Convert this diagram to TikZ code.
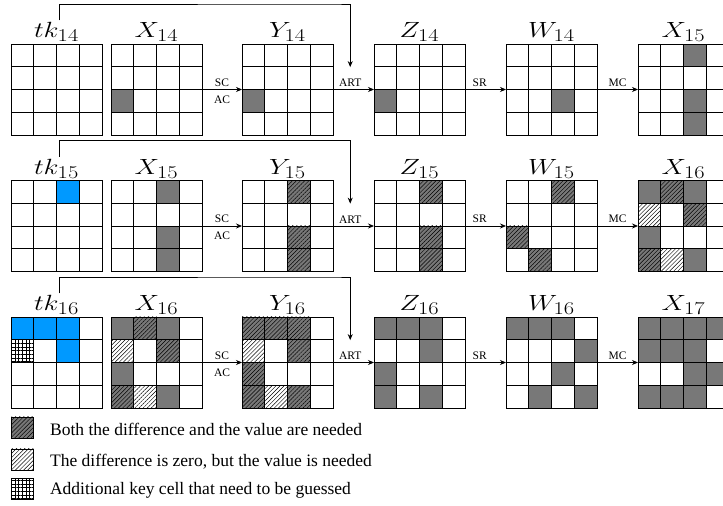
\RequirePackage{fix-cm}
\documentclass[tikz,border=0pt]{standalone}
\usepackage{fontspec}
\usepackage{graphicx}
\usepackage{tikz}
\usetikzlibrary{arrows.meta,positioning,patterns.meta}
\newfontfamily\labelfont{Liberation Serif}
\definecolor{cellGray}{HTML}{787878}
\definecolor{keyBlue}{HTML}{0099FF}
\DeclareMathSizes{22}{22}{18}{14}
\newcommand{\sttitle}[2]{\scalebox{1.25}[1]{$#1_{#2}$}}
% one cell of a 4x4 state: node, row, column, style
\newcommand{\paintcell}[4]{\path[#4] ([xshift=#3*22.75pt,yshift=-#2*22.75pt]#1.north west) rectangle ++(22.75,-22.75)}
\newcommand{\stategrid}[1]{%
  \begin{scope}[shift={(#1.south west)}]
    \draw[gridline] (0,0) grid[step=22.75] (91,91);
    \draw[gridline] (0,0) rectangle (91,91);
  \end{scope}}

\begin{document}
\begin{tikzpicture}[
  x=1pt,y=1pt,
  statebox/.style={minimum size=91pt,inner sep=0pt,outer sep=0pt},
  heading/.style={font=\fontsize{22}{26}\selectfont,inner sep=2pt},
  gridline/.style={line width=0.8pt},
  oplabel/.style={font=\labelfont\fontsize{11.5}{13}\selectfont,inner sep=2.5pt},
  arrow/.style={-{Stealth[length=6pt,width=5pt]},line width=0.8pt},
  dk/.style={fill=cellGray},
  dh/.style={preaction={fill=cellGray},pattern={Lines[angle=45,distance=2.9pt,line width=0.45pt]}},
  wh/.style={pattern={Lines[angle=45,distance=2.9pt,line width=0.45pt]}},
  kb/.style={fill=keyBlue},
  gk/.style={pattern={Hatch[angle=0,distance=3.7pt,line width=0.5pt]}},
  legbox/.style={draw,line width=0.8pt,minimum width=22pt,minimum height=21pt,inner sep=0pt},
  legtext/.style={font=\labelfont\fontsize{17.5}{20}\selectfont,inner sep=0pt}
]
\useasboundingbox (0,0) rectangle (723,506);
\clip (0,0) rectangle (723,506);

% states of the three rounds
\foreach \n [count=\i from 0] in {14,15,16} {
  \node[statebox] (tk\n) at (56.5,{416.5-136.5*\i}) {};
  \node[statebox,right=9pt of tk\n] (x\n) {};
  \node[statebox,right=40pt of x\n] (y\n) {};
  \node[statebox,right=41pt of y\n] (z\n) {};
  \node[statebox,right=41pt of z\n] (w\n) {};
  \node[statebox,right=41pt of w\n] (out\n) {};
}

% round 14
\foreach \r/\c/\s in {2/0/dk} \paintcell{x14}{\r}{\c}{\s};
\foreach \r/\c/\s in {2/0/dk} \paintcell{y14}{\r}{\c}{\s};
\foreach \r/\c/\s in {2/0/dk} \paintcell{z14}{\r}{\c}{\s};
\foreach \r/\c/\s in {2/2/dk} \paintcell{w14}{\r}{\c}{\s};
\foreach \r/\c/\s in {0/2/dk,2/2/dk,3/2/dk} \paintcell{out14}{\r}{\c}{\s};
% round 15
\foreach \r/\c/\s in {0/2/kb} \paintcell{tk15}{\r}{\c}{\s};
\foreach \r/\c/\s in {0/2/dk,2/2/dk,3/2/dk} \paintcell{x15}{\r}{\c}{\s};
\foreach \r/\c/\s in {0/2/dh,2/2/dh,3/2/dh} \paintcell{y15}{\r}{\c}{\s};
\foreach \r/\c/\s in {0/2/dh,2/2/dh,3/2/dh} \paintcell{z15}{\r}{\c}{\s};
\foreach \r/\c/\s in {0/2/dh,2/0/dh,3/1/dh} \paintcell{w15}{\r}{\c}{\s};
\foreach \r/\c/\s in {0/0/dk,0/1/dh,0/2/dk,1/0/wh,1/2/dh,2/0/dk,3/0/dh,3/1/wh,3/2/dk} \paintcell{out15}{\r}{\c}{\s};
% round 16
\foreach \r/\c/\s in {0/0/kb,0/1/kb,0/2/kb,1/2/kb,1/0/gk} \paintcell{tk16}{\r}{\c}{\s};
\foreach \r/\c/\s in {0/0/dk,0/1/dh,0/2/dk,1/0/wh,1/2/dh,2/0/dk,3/0/dh,3/1/wh,3/2/dk} \paintcell{x16}{\r}{\c}{\s};
\foreach \r/\c/\s in {0/0/dh,0/1/dh,0/2/dh,1/0/wh,1/2/dh,2/0/dh,3/0/dh,3/1/wh,3/2/dh} \paintcell{y16}{\r}{\c}{\s};
\foreach \r/\c/\s in {0/0/dk,0/1/dk,0/2/dk,1/2/dk,2/0/dk,3/0/dk,3/2/dk} \paintcell{z16}{\r}{\c}{\s};
\foreach \r/\c/\s in {0/0/dk,0/1/dk,0/2/dk,1/3/dk,2/2/dk,3/1/dk,3/3/dk} \paintcell{w16}{\r}{\c}{\s};
\foreach \r/\c/\s in {0/0/dk,0/1/dk,0/2/dk,0/3/dk,1/0/dk,1/1/dk,1/2/dk,2/2/dk,2/3/dk,3/0/dk,3/1/dk,3/2/dk} \paintcell{out16}{\r}{\c}{\s};

% grids, titles and operations
\foreach \n/\m in {14/15,15/16,16/17} {
  \foreach \g in {tk,x,y,z,w,out} {\stategrid{\g\n}}
  \node[heading,above=0pt of tk\n] (tkt\n) {\sttitle{tk}{\n}};
  \node[heading,above=0pt of x\n] (xt\n) {\sttitle{X}{\n}};
  \node[heading,above=0pt of y\n] (yt\n) {\sttitle{Y}{\n}};
  \node[heading,above=0pt of z\n] (zt\n) {\sttitle{Z}{\n}};
  \node[heading,above=0pt of w\n] (wt\n) {\sttitle{W}{\n}};
  \node[heading,above=0pt of out\n] (outt\n) {\sttitle{X}{\m}};
  \draw[arrow] (x\n) -- node[oplabel,above]{SC} node[oplabel,below=3pt]{AC} (y\n);
  \draw[arrow] (y\n) -- node[oplabel,above,pos=0.42] (art\n) {ART} (z\n);
  \draw[arrow] (z\n) -- node[oplabel,above,pos=0.36]{SR} (w\n);
  \draw[arrow] (w\n) -- node[oplabel,above]{MC} (out\n);
  \draw[arrow] ([xshift=3pt]tkt\n.north) |- ([yshift=40pt]y\n.north east) -| ([yshift=9pt]art\n.north);
}

% legend
\node[legbox,dh] (leg1) at (22.5,78.5) {};
\node[legbox,wh] (leg2) at (22.5,46.5) {};
\node[legbox,gk] (leg3) at (22.5,17) {};
\node[legtext,right=16pt of leg1,yshift=-2pt] (leg1txt) {Both the difference and the value are needed};
\node[legtext,right=16pt of leg2,yshift=-2pt] (leg2txt) {The difference is zero, but the value is needed};
\node[legtext,right=16pt of leg3,yshift=-1pt] (leg3txt) {Additional key cell that need to be guessed};
\end{tikzpicture}
\end{document}
